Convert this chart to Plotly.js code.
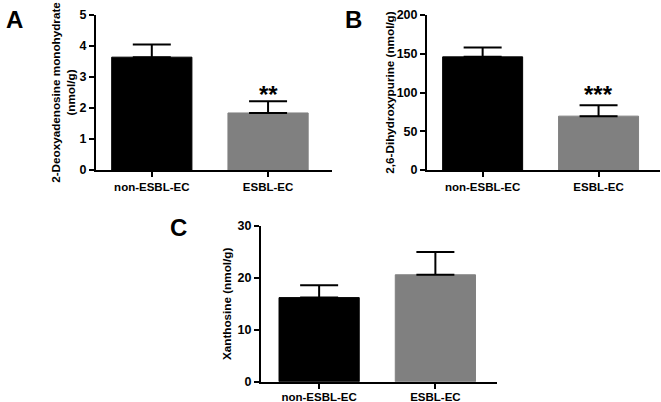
<!DOCTYPE html>
<html>
<head>
<meta charset="utf-8">
<script src="https://cdn.plot.ly/plotly-3.0.1.min.js"></script>
<style>html,body{margin:0;padding:0;background:#fff;}</style>
</head>
<body>
<div id="chart" style="width:661px;height:402px;"></div>
<script>
const categories = ["non-ESBL-EC", "ESBL-EC"];
const barColors = ["#000000", "#808080"];

const meanA = [3.64, 1.84];
const errA = [0.41, 0.38];
const meanB = [146, 69.5];
const errB = [12, 14];
const meanC = [16.2, 20.6];
const errC = [2.4, 4.4];

const titleA = "2-Deoxyadenosine monohydrate<br>(nmol/g)";
const titleB = "2,6-Dihydroxypurine (nmol/g)";
const titleC = "Xanthosine (nmol/g)";

const W = 661, H = 402;
const fontFam = "Arial, 'Liberation Sans', sans-serif";

function barTrace(mean, err, xa, ya) {
  return {
    type: "bar", x: categories, y: mean, xaxis: xa, yaxis: ya,
    width: 0.69,
    marker: {color: barColors, line: {color: barColors, width: 1}},
    error_y: {type: "data", array: err, arrayminus: err.map(() => 0), symmetric: false,
              color: "#000", thickness: 2, width: 19},
    hoverinfo: "none", showlegend: false
  };
}

const data = [
  barTrace(meanA, errA, "x", "y"),
  barTrace(meanB, errB, "x2", "y2"),
  barTrace(meanC, errC, "x3", "y3")
];

function xax(domain, range) {
  return {
    domain: domain, range: range, type: "category",
    showline: true, linewidth: 2, linecolor: "#000",
    ticks: "outside", ticklen: 5, tickwidth: 2, tickcolor: "#000",
    showgrid: false, zeroline: false, fixedrange: true,
    tickfont: {family: fontFam, size: 11.5, color: "#000", weight: "bold"}
  };
}
function yax(domain, range, dtick, title, standoff) {
  return {
    domain: domain, range: range, dtick: dtick,
    showline: true, linewidth: 2, linecolor: "#000",
    ticks: "outside", ticklen: 5, tickwidth: 2, tickcolor: "#000",
    showgrid: false, zeroline: false, fixedrange: true,
    tickfont: {family: fontFam, size: 12.5, color: "#000", weight: "bold"},
    title: {text: title, standoff: standoff, font: {family: fontFam, size: 11.7, color: "#000", weight: "bold"}}
  };
}

const yTopDom = [(H - 170) / H, (H - 15) / H];
const yBotDom = [(H - 381.7) / H, (H - 226) / H];

const layout = {
  width: W, height: H,
  margin: {l: 0, r: 0, t: 0, b: 0},
  paper_bgcolor: "#fff", plot_bgcolor: "#fff",
  bargap: 0,
  xaxis: Object.assign(xax([96 / W, 332 / W], [-0.48, 1.55]), {anchor: "y"}),
  yaxis: Object.assign(yax(yTopDom, [0, 5], 1, titleA, 1), {anchor: "x"}),
  xaxis2: Object.assign(xax([427 / W, 660 / W], [-0.48, 1.53]), {anchor: "y2"}),
  yaxis2: Object.assign(yax(yTopDom, [0, 200], 50, titleB, 0), {anchor: "x2"}),
  xaxis3: Object.assign(xax([261 / W, 497 / W], [-0.5, 1.53]), {anchor: "y3", ticklabelstandoff: -2}),
  yaxis3: Object.assign(yax(yBotDom, [0, 30], 10, titleC, 3), {anchor: "x3"}),
  annotations: [
    {text: "A", xref: "paper", yref: "paper", x: 4 / W, y: 1 - 4 / H, xanchor: "left", yanchor: "top",
     showarrow: false, font: {family: fontFam, size: 24, color: "#000", weight: "bold"}},
    {text: "B", xref: "paper", yref: "paper", x: 343 / W, y: 1 - 4 / H, xanchor: "left", yanchor: "top",
     showarrow: false, font: {family: fontFam, size: 24, color: "#000", weight: "bold"}},
    {text: "C", xref: "paper", yref: "paper", x: 168 / W, y: 1 - 212 / H, xanchor: "left", yanchor: "top",
     showarrow: false, font: {family: fontFam, size: 24, color: "#000", weight: "bold"}},
    {text: "**", xref: "x", yref: "y", x: categories[1], y: 2.45, xanchor: "center", yanchor: "middle",
     showarrow: false, font: {family: fontFam, size: 24, color: "#000", weight: "bold"}},
    {text: "***", xref: "x2", yref: "y2", x: categories[1], y: 98, xanchor: "center", yanchor: "middle",
     showarrow: false, font: {family: fontFam, size: 24, color: "#000", weight: "bold"}}
  ]
};

Plotly.newPlot("chart", data, layout, {staticPlot: true, displayModeBar: false});
</script>
</body>
</html>
